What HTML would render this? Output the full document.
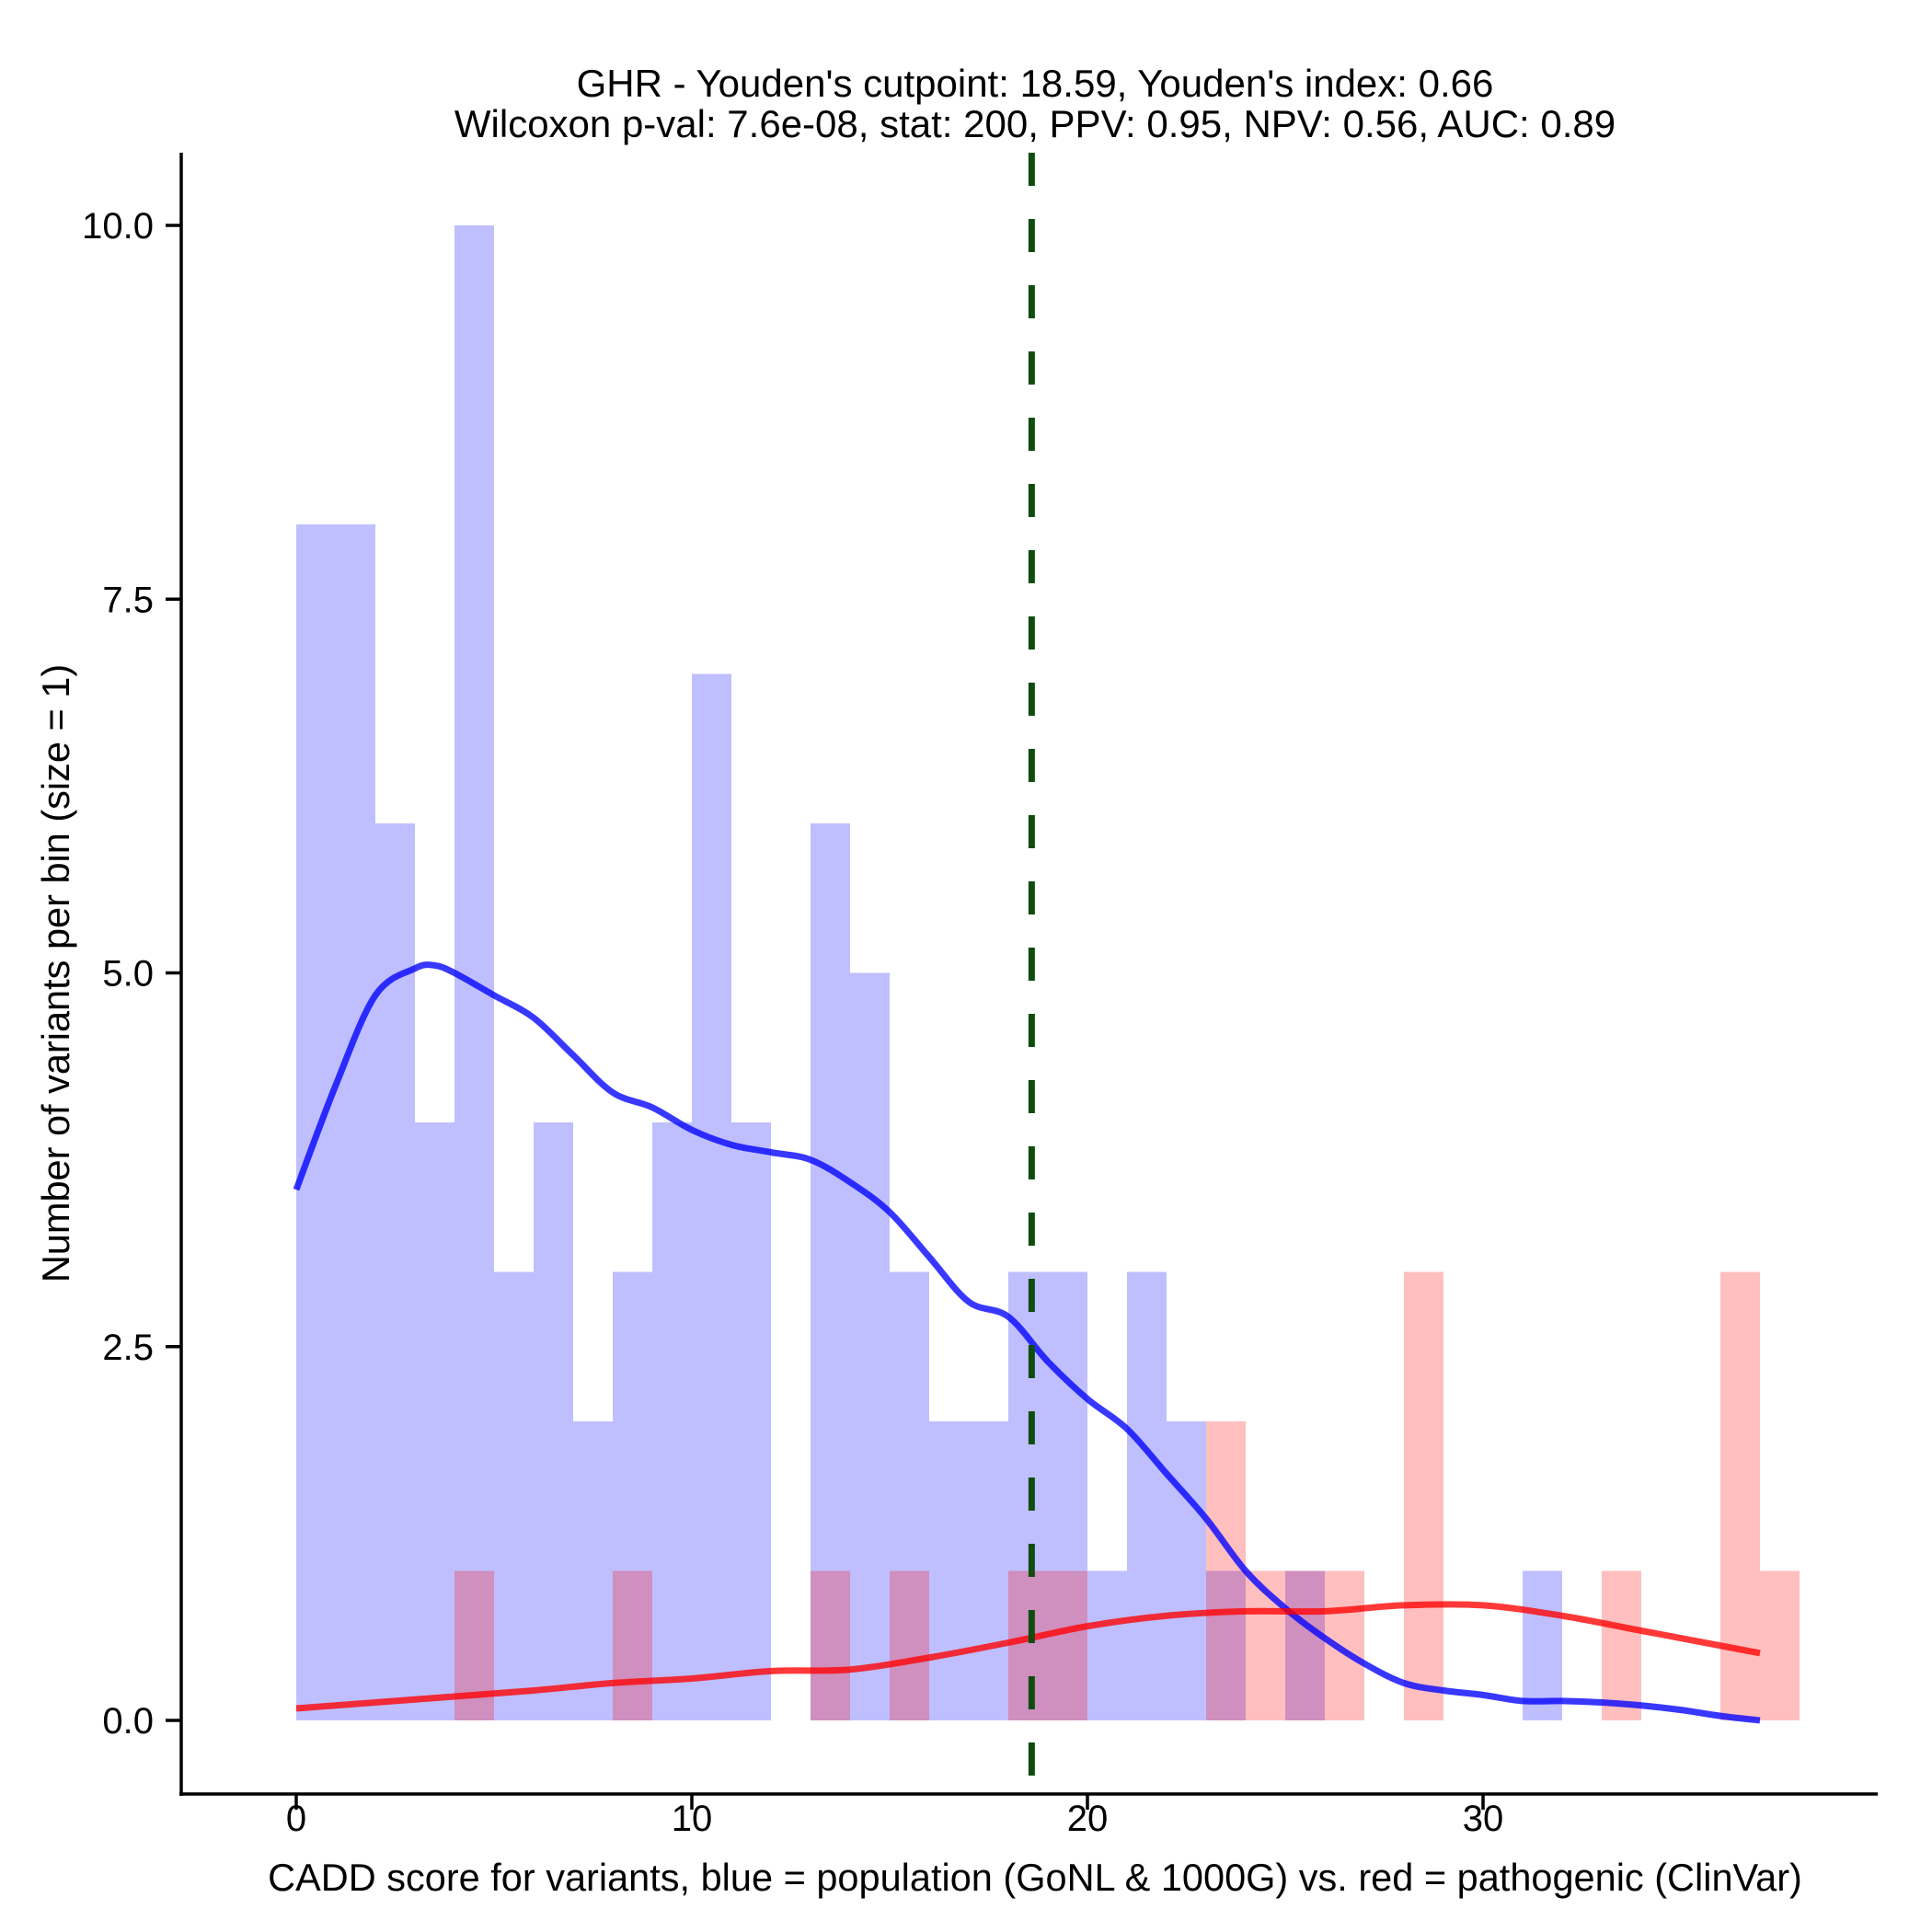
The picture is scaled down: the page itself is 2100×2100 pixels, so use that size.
<!DOCTYPE html>
<html><head><meta charset="utf-8"><style>
html,body{margin:0;padding:0;background:#fff}
svg{display:block;font-family:"Liberation Sans",Arial,sans-serif}
</style></head><body>
<svg id="chart" width="2100" height="2100" viewBox="0 0 2100 2100" xmlns="http://www.w3.org/2000/svg">
<rect width="2100" height="2100" fill="#fff"/>
<text x="1125" y="105" font-size="42" text-anchor="middle">GHR - Youden's cutpoint: 18.59, Youden's index: 0.66</text>
<text x="1125" y="149" font-size="42" text-anchor="middle">Wilcoxon p-val: 7.6e-08, stat: 200, PPV: 0.95, NPV: 0.56, AUC: 0.89</text>
<g id="bars-blue" shape-rendering="crispEdges"></g>
<g id="bars-red" shape-rendering="crispEdges"></g>
<g id="curves"></g>
<g id="axes"></g>
<text x="1125" y="2055" font-size="41.5" text-anchor="middle">CADD score for variants, blue = population (GoNL &amp; 1000G) vs. red = pathogenic (ClinVar)</text>
<text transform="translate(75,1058) rotate(-90)" font-size="41.5" text-anchor="middle">Number of variants per bin (size = 1)</text>
</svg>
<script>
const blueCounts = [8,8,6,4,10,3,4,2,3,4,7,4,0,6,5,3,2,2,3,3,1,3,2,1,0,1,0,0,0,0,0,1,0,0,0,0,0,0];
const redCounts  = [0,0,0,0,1,0,0,0,1,0,0,0,0,1,0,1,0,0,1,1,0,0,0,2,1,1,1,0,3,0,0,0,0,1,0,0,3,1];
const blueCurveX = [0,1,2,3,3.5,4,5,6,7,8,9,10,11,12,13,14,15,16,17,18,19,20,21,22,23,24,25,26,27,28,29,30,31,32,33,34,35,36,37];
const blueCurveY = [3.55,4.25,4.85,5.03,5.05,5.0,4.85,4.7,4.45,4.2,4.1,3.95,3.85,3.8,3.75,3.6,3.4,3.1,2.8,2.7,2.4,2.15,1.95,1.65,1.35,1.0,0.75,0.55,0.38,0.25,0.2,0.17,0.13,0.13,0.12,0.1,0.07,0.03,0.0];
const redCurveX = [0,2,4,6,8,10,12,14,16,18,20,22,24,26,28,30,32,34,36,37];
const redCurveY = [0.08,0.12,0.16,0.2,0.25,0.28,0.33,0.34,0.42,0.52,0.63,0.7,0.73,0.73,0.77,0.77,0.7,0.6,0.5,0.45];
const xTicks = [0,10,20,30];
const yTicks = [0,2.5,5,7.5,10];
const yTickLabels = ["0.0","2.5","5.0","7.5","10.0"];
const cutpoint = 18.59;

const NS = "http://www.w3.org/2000/svg";
const X0 = 322, XU = 43.0, Y0 = 1870, YU = 162.5;
const sx = v => X0 + v * XU;
const sy = v => Y0 - v * YU;
function mk(tag, attrs, parent) {
  const e = document.createElementNS(NS, tag);
  for (const k in attrs) e.setAttribute(k, attrs[k]);
  parent.appendChild(e);
  return e;
}
const gb = document.getElementById('bars-blue');
blueCounts.forEach((c, i) => {
  if (!c) return;
  const r = mk('rect', {x: Math.round(sx(i)), y: sy(c), width: Math.round(sx(i + 1)) - Math.round(sx(i)), height: sy(0) - sy(c), fill: '#0000ff', 'fill-opacity': 0.25}, gb);
  
  
});
const gr = document.getElementById('bars-red');
redCounts.forEach((c, i) => {
  if (!c) return;
  const r = mk('rect', {x: Math.round(sx(i)), y: sy(c), width: Math.round(sx(i + 1)) - Math.round(sx(i)), height: sy(0) - sy(c), fill: '#ff0000', 'fill-opacity': 0.25}, gr);
  
  
});
const gc = document.getElementById('curves');
function path(xs, ys) {
  const p = xs.map((x, i) => [sx(x), sy(ys[i])]);
  let d = 'M' + p[0][0] + ',' + p[0][1];
  for (let i = 0; i < p.length - 1; i++) {
    const p0 = p[Math.max(0, i - 1)], p1 = p[i], p2 = p[i + 1], p3 = p[Math.min(p.length - 1, i + 2)];
    const c1 = [p1[0] + (p2[0] - p0[0]) / 6, p1[1] + (p2[1] - p0[1]) / 6];
    const c2 = [p2[0] - (p3[0] - p1[0]) / 6, p2[1] - (p3[1] - p1[1]) / 6];
    d += ' C' + c1 + ' ' + c2 + ' ' + p2;
  }
  return d;
}
const bc = mk('path', {d: path(blueCurveX, blueCurveY), fill: 'none', stroke: '#0000ff', 'stroke-opacity': 0.78, 'stroke-width': 7}, gc);


const rc = mk('path', {d: path(redCurveX, redCurveY), fill: 'none', stroke: '#ff0000', 'stroke-opacity': 0.78, 'stroke-width': 7}, gc);


const cl = mk('line', {x1: sx(cutpoint), x2: sx(cutpoint), y1: 166, y2: 1950, stroke: '#0f4d0f', 'stroke-width': 7, 'stroke-dasharray': '36 36'}, gc);



const ga = document.getElementById('axes');
const ya = mk('line', {x1: 197, x2: 197, y1: 166, y2: 1952, stroke: '#000', 'stroke-width': 3.5}, ga);


const xa = mk('line', {x1: 195, x2: 2041, y1: 1950, y2: 1950, stroke: '#000', 'stroke-width': 3.5}, ga);


yTicks.forEach((v, i) => {
  const t = mk('line', {x1: 180, x2: 197, y1: sy(v), y2: sy(v), stroke: '#000', 'stroke-width': 3.5}, ga);
  
  
  const l = mk('text', {x: 167, y: sy(v) + 14, 'font-size': 40, 'text-anchor': 'end'}, ga);
  l.textContent = yTickLabels[i];
  
  
});
xTicks.forEach(v => {
  const t = mk('line', {x1: sx(v), x2: sx(v), y1: 1950, y2: 1967, stroke: '#000', 'stroke-width': 3.5}, ga);
  
  
  const l = mk('text', {x: sx(v), y: 1990, 'font-size': 40, 'text-anchor': 'middle'}, ga);
  l.textContent = String(v);
  
  
});
</script>
</body></html>
